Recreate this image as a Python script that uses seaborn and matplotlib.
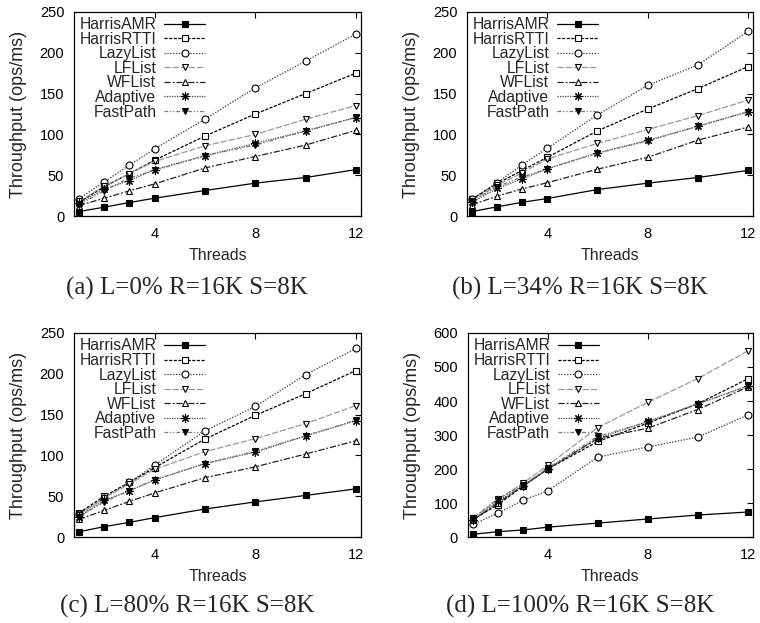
import matplotlib
matplotlib.use("Agg")
import matplotlib.pyplot as plt
import seaborn as sns

sns.set_theme(style="white")
plt.rcParams['font.family'] = ['Liberation Sans', 'DejaVu Sans']

threads = [1, 2, 3, 4, 6, 8, 10, 12]
series_names = ["HarrisAMR", "HarrisRTTI", "LazyList", "LFList", "WFList", "Adaptive", "FastPath"]

# panel (a) L=0%
a_amr = [5.7, 11, 16.7, 22, 31.4, 40.4, 47.3, 57]
a_rtti = [17, 36, 52, 68.5, 98, 125, 150, 175]
a_lazy = [21.6, 42, 62.4, 82.4, 118.7, 157, 189.6, 223]
a_lf = [18, 37, 52, 67, 86, 100, 118.7, 135.4]
a_wf = [13, 22, 31, 39.5, 59, 73, 87, 105]
a_adapt = [16, 33, 43.6, 57, 74, 89, 104.4, 120.7]
a_fast = [14, 31, 47, 56, 74, 87, 104, 121]

# panel (b) L=34%
b_amr = [5.7, 11.4, 17, 21.6, 32.6, 40.4, 47.3, 56]
b_rtti = [21, 40, 56, 72, 104.4, 131, 156, 183]
b_lazy = [21, 41, 63, 83, 124, 160, 185, 226]
b_lf = [19, 38, 53, 70, 89, 106, 123, 142]
b_wf = [14, 24.5, 33.4, 41, 57.5, 72, 93, 109]
b_adapt = [17, 34, 45.7, 58, 77.5, 92.6, 110, 127.6]
b_fast = [19, 36, 48, 58, 77, 92, 110, 128]

# panel (c) L=80%
c_amr = [6.5, 12.7, 18, 23.7, 34.3, 43, 51, 59]
c_rtti = [29.4, 50, 67, 85, 120, 149, 175.6, 204]
c_lazy = [28, 47.4, 67, 88, 130, 160, 199, 231]
c_lf = [27, 48, 65, 83, 104.6, 120.5, 139, 161]
c_wf = [21.6, 32.7, 43.7, 54, 72.7, 86, 101.7, 118]
c_adapt = [25, 45, 56.4, 70, 90, 104, 124, 142.6]
c_fast = [25, 43, 57, 70, 90, 105, 124, 143]

# panel (d) L=100%
d_amr = [8, 15.7, 20.6, 29, 41, 53, 64.7, 73.5]
d_rtti = [51, 95, 149, 200, 281, 335, 392, 465]
d_lazy = [37, 70, 108, 136, 235, 265, 294, 359]
d_lf = [55, 110, 158, 211, 322, 396, 466, 547]
d_wf = [50, 100, 150, 200, 290, 320, 375, 441]
d_adapt = [50, 105, 150, 200, 290, 340, 391, 445]
d_fast = [56, 112, 152, 203, 296, 338, 392, 443]

panels = [
    ([a_amr, a_rtti, a_lazy, a_lf, a_wf, a_adapt, a_fast], "(a) L=0% R=16K S=8K", 250, [0, 50, 100, 150, 200, 250]),
    ([b_amr, b_rtti, b_lazy, b_lf, b_wf, b_adapt, b_fast], "(b) L=34% R=16K S=8K", 250, [0, 50, 100, 150, 200, 250]),
    ([c_amr, c_rtti, c_lazy, c_lf, c_wf, c_adapt, c_fast], "(c) L=80% R=16K S=8K", 250, [0, 50, 100, 150, 200, 250]),
    ([d_amr, d_rtti, d_lazy, d_lf, d_wf, d_adapt, d_fast], "(d) L=100% R=16K S=8K", 600, [0, 100, 200, 300, 400, 500, 600]),
]

styles = {
    "HarrisAMR": dict(color="black", ls="-", marker="s", mfc="black", ms=5),
    "HarrisRTTI": dict(color="black", ls=(0, (2.5, 1.2)), marker="s", mfc="white", ms=5),
    "LazyList": dict(color="#333333", ls=(0, (1, 1.3)), marker="o", mfc="white", ms=5),
    "LFList": dict(color="#999999", ls=(0, (5, 1.5)), marker="v", mfc="white", ms=5),
    "WFList": dict(color="#222222", ls=(0, (5, 1.5, 1.5, 1.5)), marker="^", mfc="white", ms=5),
    "Adaptive": dict(color="#444444", ls=(0, (1, 1)), marker=(8, 2, 0), mfc="black", ms=6),
    "FastPath": dict(color="#777777", ls=(0, (3, 1.5, 1, 1.5, 1, 1.5)), marker="v", mfc="black", ms=4.5),
}

fig = plt.figure(figsize=(7.6, 6.23), dpi=100)
positions = [
    [0.0974, 0.653, 0.3776, 0.328],
    [0.6145, 0.653, 0.3763, 0.328],
    [0.0974, 0.138, 0.3776, 0.3275],
    [0.6155, 0.138, 0.3750, 0.3275],
]
caption_y = [0.537, 0.537, 0.026, 0.026]

for (vals_list, caption, ymax, yticks), pos, cy in zip(panels, positions, caption_y):
    ax = fig.add_axes(pos)
    for name, vals in zip(series_names, vals_list):
        st = styles[name]
        sns.lineplot(x=threads, y=vals, ax=ax, color=st["color"], linestyle=st["ls"],
                     marker=st["marker"], markerfacecolor=st["mfc"], markeredgecolor="black",
                     markersize=st["ms"], markeredgewidth=0.8, linewidth=0.9, label=name)
    ax.set_xlim(0.8, 12.2)
    ax.set_ylim(0, ymax)
    ax.set_xticks([4, 8, 12])
    ax.set_yticks(yticks)
    ax.tick_params(direction="in", length=4, width=0.8, top=True, right=True,
                   labelsize=10.5, colors="black")
    ax.tick_params(axis="x", pad=8)
    ax.tick_params(axis="y", pad=7)
    for sp in ax.spines.values():
        sp.set_color("black")
        sp.set_linewidth(0.9)
    ax.set_xlabel("Threads", fontsize=11.5, labelpad=5)
    ax.set_ylabel("Throughput (ops/ms)", fontsize=13, labelpad=9)
    leg = ax.legend(loc="upper left", bbox_to_anchor=(0.0, 1.0), frameon=False,
                    markerfirst=False, fontsize=11.3, handlelength=2.6, labelspacing=-0.03,
                    handletextpad=0.5, borderaxespad=0.15, borderpad=0.2)
    cx = pos[0] + pos[2] / 2 - 0.04
    fig.text(cx, cy, caption, ha="center", va="center",
             fontsize=18, family=["Liberation Serif", "DejaVu Serif"])

fig.savefig("out.png", dpi=100)
